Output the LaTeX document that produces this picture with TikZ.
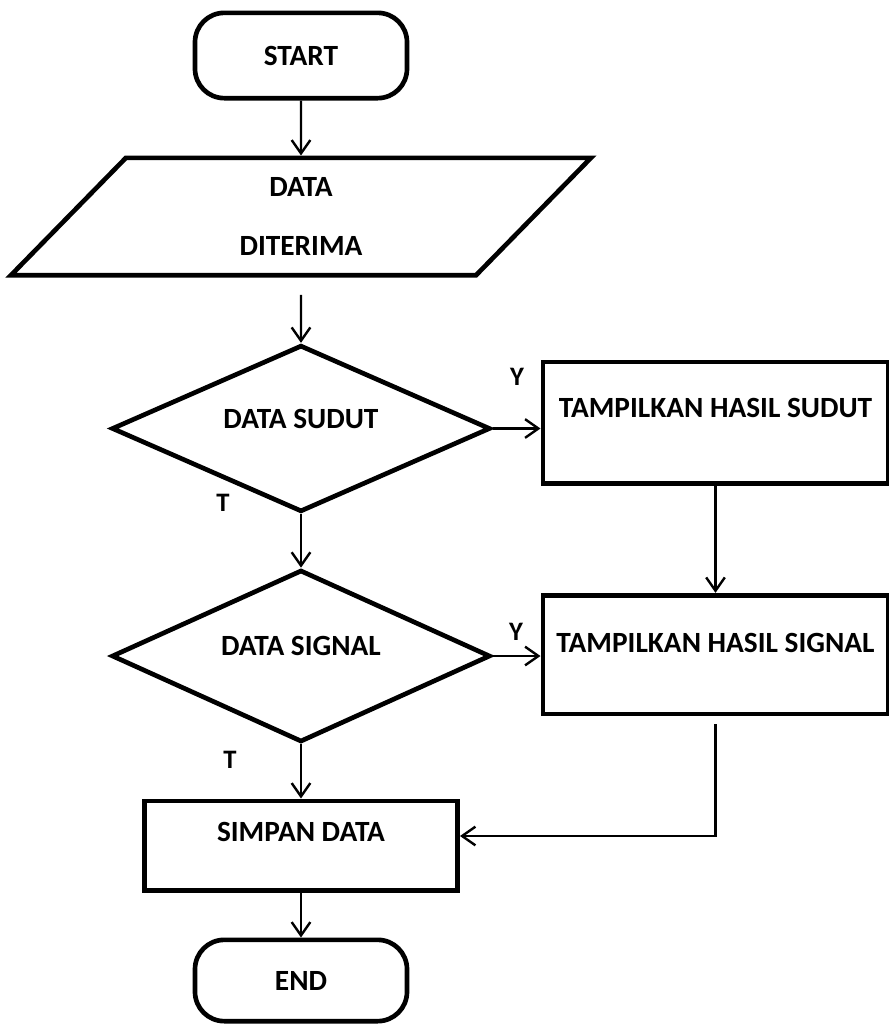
\documentclass[tikz,border=0pt]{standalone}
\usepackage{fontspec}
\setmainfont{Carlito}
\usetikzlibrary{arrows.meta,positioning,shapes.geometric}

\begin{document}
\begin{tikzpicture}[
    x=0.75pt,
    y=-0.75pt,
    >={Straight Barb[length=10pt,width=14pt]},
    every node/.style={font=\fontsize{22}{26}\selectfont\bfseries},
    shapebox/.style={draw, line width=3.5pt},
    terminal/.style={shapebox, rectangle, rounded corners=22pt, minimum width=159pt, minimum height=#1},
    iobox/.style={shapebox, trapezium, trapezium left angle=37, trapezium right angle=143,
      trapezium stretches body=true, minimum width=435pt, minimum height=88pt, align=center},
    decision/.style={shapebox, diamond, aspect=2.27, inner sep=0pt, minimum width=284pt,
      minimum height=#1, text depth=15pt},
    process/.style={shapebox, rectangle, minimum width=259pt, minimum height=#1},
    flow/.style={->, line width=1.8pt},
    branch/.style={font=\fontsize{20}{24}\selectfont\bfseries},
  ]

  \useasboundingbox (0,0) rectangle (889,1025);

  % === Main column ===
  \node[terminal=64pt] (start) at (301,55.5) {START};
  \node[iobox] (data) at (301,216.5) {DATA\\[18pt]DITERIMA};
  \node[decision=125pt] (sudut) at (301,428.5) {DATA SUDUT};
  \node[decision=129pt] (signal) at (301,656) {DATA SIGNAL};
  \node[process=67pt, minimum width=235pt, text depth=20pt] (simpan) at (301,845.5) {SIMPAN DATA};
  \node[terminal=61pt] (end) at (301,980.5) {END};

  % === Right column ===
  \node[process=91pt, text depth=22pt] (hsudut) at (715.5,422.5) {TAMPILKAN HASIL SUDUT};
  \node[process=89pt, text depth=17pt] (hsignal) at (715.5,654.5) {TAMPILKAN HASIL SIGNAL};

  % Branch labels
  \node[branch] (ysudut) at (517,377) {Y};
  \node[branch] (tsudut) at (223,503) {T};
  \node[branch] (ysignal) at (516,632) {Y};
  \node[branch] (tsignal) at (230,760) {T};

  % === Connectors ===
  \draw[flow] (start.south) -- (data.north);
  \draw[flow, shorten <=13pt] (data.south) -- (sudut.north);
  \draw[flow] (sudut.east) -- (sudut.east -| hsudut.west);
  \draw[flow] (sudut.south) -- (signal.north);
  \draw[flow] (hsudut.south) -- (hsignal.north);
  \draw[flow] (signal.east) -- (signal.east -| hsignal.west);
  \draw[flow] (signal.south) -- (simpan.north);
  \coordinate (join) at (715.5,836);
  \draw[flow, shorten <=6pt] (hsignal.south) -- (join) -- (join -| simpan.east);
  \draw[flow] (simpan.south) -- (end.north);

\end{tikzpicture}
\end{document}
